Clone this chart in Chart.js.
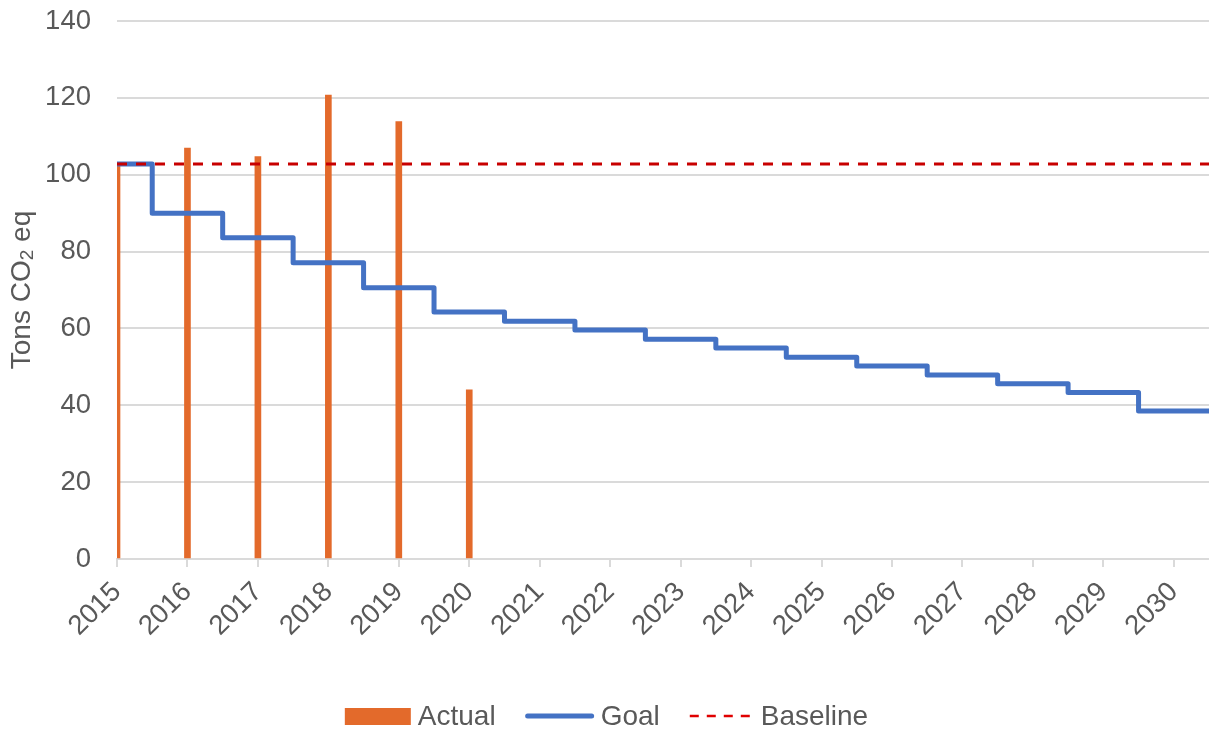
<!DOCTYPE html>
<html>
<head>
<meta charset="utf-8">
<title>Emissions goal</title>
<script src="https://cdn.jsdelivr.net/npm/chart.js@4.4.1/dist/chart.umd.min.js"></script>
<style>
  html, body { margin: 0; padding: 0; background: #ffffff; }
  #wrap { width: 1209px; height: 731px; }
</style>
</head>
<body>
<div id="wrap"><canvas id="chart" width="1209" height="731"></canvas></div>
<script>
// Reporting years shown on the horizontal axis
const years = [2015, 2016, 2017, 2018, 2019, 2020, 2021, 2022, 2023, 2024, 2025, 2026, 2027, 2028, 2029, 2030];
// Measured emissions (tons CO2 eq)
const actualYears = [2015, 2016, 2017, 2018, 2019, 2020];
const actualValues = [102.8, 106.9, 104.7, 120.7, 113.8, 44.0];
// Yearly reduction target (tons CO2 eq), one value per year in `years`
const goalValues = [102.8, 90.0, 83.6, 77.1, 70.6, 64.3, 61.9, 59.6, 57.2, 54.9, 52.5, 50.2, 47.9, 45.6, 43.3, 38.5];
// Reference level
const baselineValue = 102.8;
// Vertical axis ticks
const yTickValues = [0, 20, 40, 60, 80, 100, 120, 140];
// Series names, in legend order
const seriesNames = ['Actual', 'Goal', 'Baseline'];

const ORANGE = '#E36A2B';
const BLUE = '#4472C4';
const RED = '#C80000';
const TEXT = '#595959';
const GRID = '#DADADA';
const FONT_FAMILY = '"Liberation Sans", Arial, sans-serif';
const TICK_SIZE = 27.5;

const firstYear = years[0];
const lastYear = years[years.length - 1];
const axisMax = lastYear + 0.5;

const actualPoints = actualYears.map((yr, i) => ({ x: yr, y: actualValues[i] }));
// Each target holds from half a year before to half a year after its year;
// a trailing point carries the last target past the right edge.
const goalPoints = years.map((yr, i) => ({ x: yr, y: goalValues[i] }));
goalPoints.push({ x: lastYear + 1, y: goalValues[goalValues.length - 1] });
const baselinePoints = [{ x: firstYear, y: baselineValue }, { x: lastYear + 1, y: baselineValue }];

// Vertical axis title with a real subscript in CO2
const axisTitlePlugin = {
  id: 'axisTitle',
  afterDraw(chart) {
    const ctx = chart.ctx;
    const area = chart.chartArea;
    const big = '28px ' + FONT_FAMILY;
    const small = '19px ' + FONT_FAMILY;
    const parts = [
      { t: 'Tons CO', f: big, dy: 0 },
      { t: '2', f: small, dy: 6 },
      { t: ' eq', f: big, dy: 0 }
    ];
    ctx.save();
    let total = 0;
    parts.forEach(p => { ctx.font = p.f; p.w = ctx.measureText(p.t).width; total += p.w; });
    ctx.translate(22, (area.top + area.bottom) / 2);
    ctx.rotate(-Math.PI / 2);
    ctx.fillStyle = TEXT;
    ctx.textBaseline = 'middle';
    ctx.textAlign = 'left';
    let x = -total / 2;
    parts.forEach(p => {
      ctx.font = p.f;
      ctx.fillText(p.t, x, p.dy);
      x += p.w;
    });
    ctx.restore();
  }
};

// Legend drawn under the plot: a filled bar swatch and two line swatches
const legendPlugin = {
  id: 'bottomLegend',
  afterDraw(chart) {
    const ctx = chart.ctx;
    const kinds = [
      { kind: 'box', color: ORANGE, w: 66 },
      { kind: 'line', color: BLUE, w: 68 },
      { kind: 'dash', color: '#E00000', w: 64 }
    ];
    const gapText = 7, gapItem = 30;
    const cy = 716;
    ctx.save();
    ctx.font = '28px ' + FONT_FAMILY;
    ctx.textBaseline = 'middle';
    ctx.textAlign = 'left';
    const widths = seriesNames.map((name, i) => kinds[i].w + gapText + ctx.measureText(name).width);
    const total = widths.reduce((a, b) => a + b, 0) + gapItem * (widths.length - 1);
    let x = (chart.width - total) / 2 + 2;
    seriesNames.forEach((name, i) => {
      const it = kinds[i];
      if (it.kind === 'box') {
        ctx.fillStyle = it.color;
        ctx.fillRect(x, cy - 8, it.w, 17);
      } else {
        ctx.beginPath();
        ctx.strokeStyle = it.color;
        if (it.kind === 'line') {
          ctx.lineWidth = 5;
          ctx.lineCap = 'round';
          ctx.setLineDash([]);
          ctx.moveTo(x + 2, cy);
          ctx.lineTo(x + it.w - 2, cy);
        } else {
          ctx.lineWidth = 2.5;
          ctx.lineCap = 'butt';
          ctx.setLineDash([9, 8]);
          ctx.moveTo(x, cy);
          ctx.lineTo(x + it.w, cy);
        }
        ctx.stroke();
        ctx.setLineDash([]);
      }
      ctx.fillStyle = TEXT;
      ctx.fillText(name, x + it.w + gapText, cy + 1);
      x += widths[i] + gapItem;
    });
    ctx.restore();
  }
};

const whiteBg = {
  id: 'whiteBg',
  beforeDraw(chart) {
    const ctx = chart.ctx;
    ctx.save();
    ctx.fillStyle = '#ffffff';
    ctx.fillRect(0, 0, chart.width, chart.height);
    ctx.restore();
  }
};

new Chart(document.getElementById('chart'), {
  type: 'bar',
  data: {
    datasets: [
      {
        type: 'bar',
        label: seriesNames[0],
        data: actualPoints,
        backgroundColor: ORANGE,
        borderWidth: 0,
        barThickness: 6,
        order: 3
      },
      {
        type: 'line',
        label: seriesNames[1],
        data: goalPoints,
        borderColor: BLUE,
        backgroundColor: BLUE,
        borderWidth: 5,
        stepped: 'middle',
        borderJoinStyle: 'round',
        pointRadius: 0,
        fill: false,
        order: 2
      },
      {
        type: 'line',
        label: seriesNames[2],
        data: baselinePoints,
        borderColor: RED,
        backgroundColor: RED,
        borderWidth: 3,
        borderDash: [10, 9],
        pointRadius: 0,
        fill: false,
        order: 1
      }
    ]
  },
  options: {
    responsive: false,
    animation: false,
    events: [],
    layout: { padding: { top: 21, left: 0, right: 0, bottom: 0 } },
    plugins: {
      legend: { display: false },
      tooltip: { enabled: false }
    },
    scales: {
      x: {
        type: 'linear',
        min: firstYear,
        max: axisMax,
        offset: false,
        grid: {
          offset: false,
          drawOnChartArea: false,
          drawTicks: true,
          tickLength: 8,
          color: GRID,
          lineWidth: 2
        },
        border: { display: true, color: GRID, width: 2 },
        afterBuildTicks(scale) {
          scale.ticks = years.map(v => ({ value: v }));
        },
        afterFit(scale) {
          scale.height = 172;
          scale.paddingLeft = 0;
          scale.paddingRight = 0;
        },
        ticks: {
          autoSkip: false,
          includeBounds: false,
          minRotation: 45,
          maxRotation: 45,
          padding: 9,
          color: TEXT,
          font: { family: FONT_FAMILY, size: TICK_SIZE },
          callback: (v) => String(v)
        }
      },
      y: {
        type: 'linear',
        min: 0,
        max: 140,
        afterBuildTicks(scale) {
          scale.ticks = yTickValues.map(v => ({ value: v }));
        },
        afterFit(scale) {
          scale.width = 117;
          scale.paddingTop = 0;
          scale.paddingBottom = 0;
        },
        grid: {
          color: GRID,
          lineWidth: 2,
          drawTicks: false
        },
        border: { display: false },
        ticks: {
          padding: 26,
          color: TEXT,
          font: { family: FONT_FAMILY, size: TICK_SIZE },
          callback: (v) => String(v)
        },
        title: { display: false }
      }
    }
  },
  plugins: [whiteBg, axisTitlePlugin, legendPlugin]
});
</script>
</body>
</html>
